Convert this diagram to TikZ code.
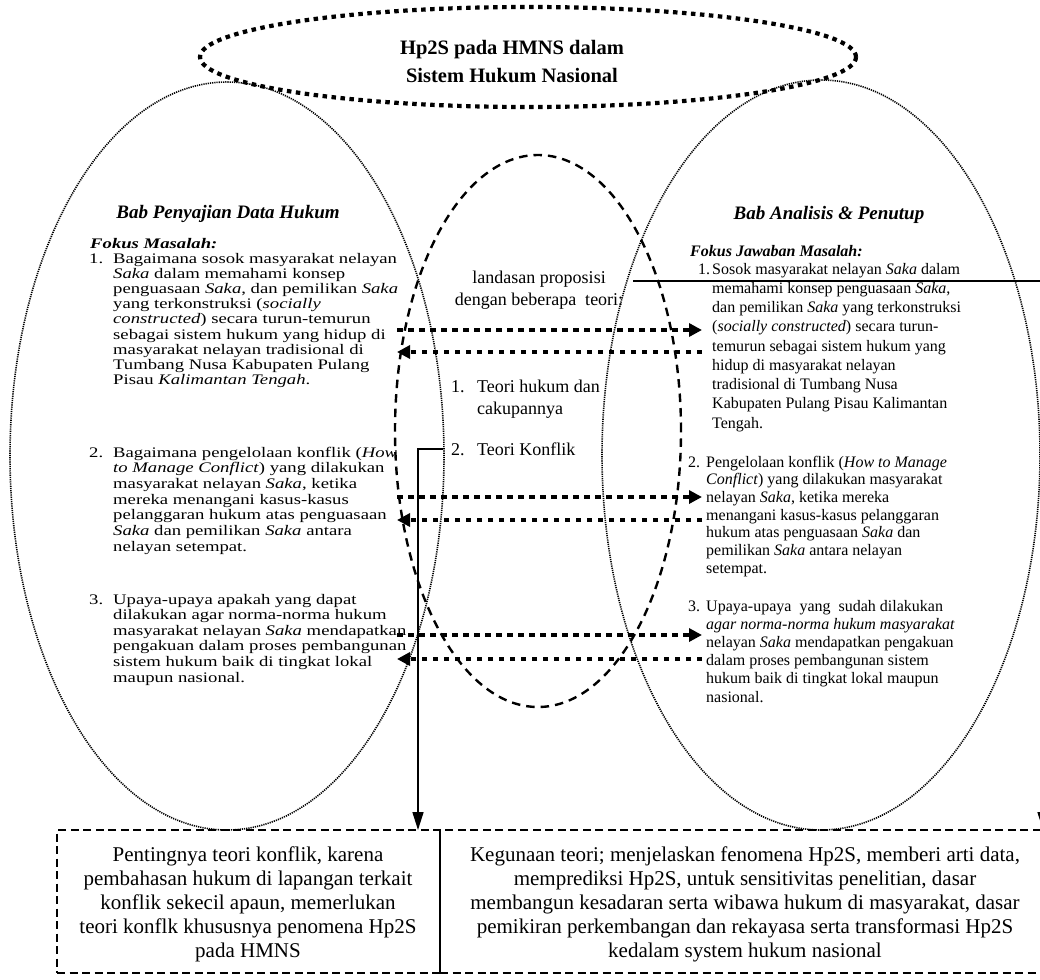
\documentclass[tikz,border=0pt]{standalone}
\usepackage{fontspec}
\setmainfont{Liberation Serif}
\newfontfamily\stretchserif[FakeStretch=1.28]{Liberation Serif}
\usetikzlibrary{arrows.meta,shapes.geometric}

% text settings
\newcommand\titlefont{\bfseries\fontsize{20.5}{28}\selectfont}
\newcommand\headfont{\bfseries\itshape\fontsize{19}{22}\selectfont}
\newcommand\leftbody[1]{\stretchserif\fontsize{14.6}{#1}\selectfont}
\newcommand\rightbody[1]{\fontsize{16}{#1}\selectfont}
\newcommand\midfont{\fontsize{18}{22}\selectfont}
\newcommand\boxfont{\fontsize{21}{24}\selectfont}
\newcommand\indL{\hspace*{24pt}}
\newcommand\indRa{\hspace*{14pt}}
\newcommand\indRb{\hspace*{18pt}}
\newcommand\indM{\hspace*{26pt}}

\begin{document}
\begin{tikzpicture}[x=1pt,y=-1pt,
  bigoval/.style={ellipse, draw, line width=1.6pt, dash pattern=on 1.2pt off 1.0pt, inner sep=0pt},
  midoval/.style={ellipse, draw, line width=2.4pt, dash pattern=on 8.5pt off 6pt, inner sep=0pt},
  titleoval/.style={ellipse, draw, line width=4.2pt, dash pattern=on 4.5pt off 4.5pt, inner sep=0pt},
  frame/.style={draw, line width=2.2pt, dash pattern=on 8pt off 4.5pt, inner sep=0pt},
  flow/.style={line width=4.4pt, dash pattern=on 5.5pt off 5.5pt, -{Triangle[length=13pt,width=13pt]}},
  solidarrow/.style={line width=1.6pt, -{Triangle[length=18pt,width=11pt]}},
  txt/.style={inner sep=0pt, anchor=base west},
  ctxt/.style={inner sep=0pt, anchor=base}]

\fill[white] (0,0) rectangle (1040,979);
\useasboundingbox (0,0) rectangle (1040,979);

% outlines
\node[bigoval, minimum width=434pt, minimum height=748pt] (leftoval) at (227,456) {};
\node[bigoval, minimum width=438pt, minimum height=750pt] (rightoval) at (821,455) {};
\node[midoval, minimum width=286pt, minimum height=552pt] (midoval) at (538,431) {};
\node[titleoval, minimum width=656pt, minimum height=100pt] (titleoval) at (528,57) {};

% bottom frames
\node[frame, minimum width=383pt, minimum height=143pt] (lbox) at (248.5,901.5) {};
\node[frame, minimum width=610pt, minimum height=143pt] (rbox) at (745,901.5) {};

% title
\node[ctxt] (title) at (512,55) {\titlefont\begin{tabular}[t]{@{}c@{}}Hp2S pada HMNS dalam\\ Sistem Hukum Nasional\end{tabular}};

% left column
\node[ctxt] (lhead) at (228,218) {\headfont Bab Penyajian Data Hukum};
\node[txt] (lfocus) at (90,248) {\stretchserif\bfseries\itshape\fontsize{14.6}{15}\selectfont Fokus Masalah:};
\node[txt] (litemA) at (89,263.5) {\leftbody{15.1}\begin{tabular}[t]{@{}l@{}}
\makebox[24pt][l]{1.}Bagaimana sosok masyarakat nelayan\\
\indL\textit{Saka} dalam memahami konsep\\
\indL penguasaan \textit{Saka}, dan pemilikan \textit{Saka}\\
\indL yang terkonstruksi (\textit{socially}\\
\indL\textit{constructed}) secara turun-temurun\\
\indL sebagai sistem hukum yang hidup di\\
\indL masyarakat nelayan tradisional di\\
\indL Tumbang Nusa Kabupaten Pulang\\
\indL Pisau \textit{Kalimantan Tengah}.\end{tabular}};
\node[txt] (litemB) at (89,457) {\leftbody{15.7}\begin{tabular}[t]{@{}l@{}}
\makebox[24pt][l]{2.}Bagaimana pengelolaan konflik (\textit{How}\\
\indL\textit{to Manage Conflict}) yang dilakukan\\
\indL masyarakat nelayan \textit{Saka}, ketika\\
\indL mereka menangani kasus-kasus\\
\indL pelanggaran hukum atas penguasaan\\
\indL\textit{Saka} dan pemilikan \textit{Saka} antara\\
\indL nelayan setempat.\end{tabular}};
\node[txt] (litemC) at (89,604) {\leftbody{15.6}\begin{tabular}[t]{@{}l@{}}
\makebox[24pt][l]{3.}Upaya-upaya apakah yang dapat\\
\indL dilakukan agar norma-norma hukum\\
\indL masyarakat nelayan \textit{Saka} mendapatkan\\
\indL pengakuan dalam proses pembangunan\\
\indL sistem hukum baik di tingkat lokal\\
\indL maupun nasional.\end{tabular}};

% right column
\node[ctxt] (rhead) at (829,219) {\headfont Bab Analisis \& Penutup};
\node[txt] (rfocus) at (690,256) {\bfseries\itshape\fontsize{16}{18}\selectfont Fokus Jawaban Masalah:};
\node[txt] (ritemA) at (698,274) {\rightbody{19.25}\begin{tabular}[t]{@{}l@{}}
\makebox[14pt][l]{1.}Sosok masyarakat nelayan \textit{Saka} dalam\\
\indRa memahami konsep penguasaan \textit{Saka},\\
\indRa dan pemilikan \textit{Saka} yang terkonstruksi\\
\indRa(\textit{socially constructed}) secara turun-\\
\indRa temurun sebagai sistem hukum yang\\
\indRa hidup di masyarakat nelayan\\
\indRa tradisional di Tumbang Nusa\\
\indRa Kabupaten Pulang Pisau Kalimantan\\
\indRa Tengah.\end{tabular}};
\node[txt] (ritemB) at (688,467) {\rightbody{17.7}\begin{tabular}[t]{@{}l@{}}
\makebox[18pt][l]{2.}Pengelolaan konflik (\textit{How to Manage}\\
\indRb\textit{Conflict}) yang dilakukan masyarakat\\
\indRb nelayan \textit{Saka}, ketika mereka\\
\indRb menangani kasus-kasus pelanggaran\\
\indRb hukum atas penguasaan \textit{Saka} dan\\
\indRb pemilikan \textit{Saka} antara nelayan\\
\indRb setempat.\end{tabular}};
\node[txt] (ritemC) at (688,611) {\rightbody{18.2}\begin{tabular}[t]{@{}l@{}}
\makebox[18pt][l]{3.}Upaya-upaya\ \ yang\ \ sudah dilakukan\\
\indRb\textit{agar norma-norma hukum masyarakat}\\
\indRb nelayan \textit{Saka} mendapatkan pengakuan\\
\indRb dalam proses pembangunan sistem\\
\indRb hukum baik di tingkat lokal maupun\\
\indRb nasional.\end{tabular}};

% middle column
\node[ctxt] (prop) at (539,283) {\midfont\begin{tabular}[t]{@{}c@{}}landasan proposisi\\ dengan beberapa\ \ teori:\end{tabular}};
\node[txt] (teoriA) at (451,392) {\midfont\begin{tabular}[t]{@{}l@{}}
\makebox[26pt][l]{1.}Teori hukum dan\\ \indM cakupannya\end{tabular}};
\node[txt] (teoriB) at (451,455) {\midfont\makebox[26pt][l]{2.}Teori Konflik};

% bottom texts
\node[ctxt] (ltext) at (248,861) {\boxfont\begin{tabular}[t]{@{}c@{}}
Pentingnya teori konflik, karena\\
pembahasan hukum di lapangan terkait\\
konflik sekecil apaun, memerlukan\\
teori konflk khususnya penomena Hp2S\\
pada HMNS\end{tabular}};
\node[ctxt] (rtext) at (745,861) {\boxfont\begin{tabular}[t]{@{}c@{}}
Kegunaan teori; menjelaskan fenomena Hp2S, memberi arti data,\\
memprediksi Hp2S, untuk sensitivitas penelitian, dasar\\
membangun kesadaran serta wibawa hukum di masyarakat, dasar\\
pemikiran perkembangan dan rekayasa serta transformasi Hp2S\\
kedalam system hukum nasional\end{tabular}};

% connector end points
\coordinate (propend) at (633,281);
\coordinate (rboxtop) at (1043,830);
\coordinate (konfstart) at (443,449);
\coordinate (lboxtop) at (418,830);
\coordinate (LA1) at (397,330); \coordinate (RA1) at (702,330);
\coordinate (RB1) at (702,352); \coordinate (LB1) at (397,352);
\coordinate (LA2) at (397,497); \coordinate (RA2) at (702,497);
\coordinate (RB2) at (702,520); \coordinate (LB2) at (397,520);
\coordinate (LA3) at (397,635); \coordinate (RA3) at (702,635);
\coordinate (RB3) at (702,659); \coordinate (LB3) at (397,659);

% dotted arrows between the two columns
\draw[flow] (LA1) -- (RA1);
\draw[flow] (RB1) -- (LB1);
\draw[flow] (LA2) -- (RA2);
\draw[flow] (RB2) -- (LB2);
\draw[flow] (LA3) -- (RA3);
\draw[flow] (RB3) -- (LB3);

% solid connectors to the frames
\draw[solidarrow] (propend) -| (rboxtop);
\draw[solidarrow] (konfstart) -| (lboxtop);
\end{tikzpicture}
\end{document}
